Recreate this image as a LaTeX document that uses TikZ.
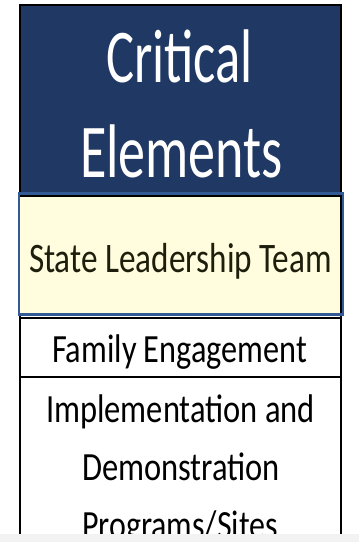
\documentclass[tikz,border=0pt]{standalone}
\usepackage{fontspec}
\setmainfont{Carlito}
\usepackage{graphicx}
\definecolor{navy}{RGB}{32,56,100}
\definecolor{paleyellow}{RGB}{255,253,222}
\definecolor{boxblue}{RGB}{52,90,150}
\definecolor{darktext}{RGB}{30,30,12}
\definecolor{bandgrey}{RGB}{242,242,242}
\newsavebox\fitbox
\newcommand\fitw[2]{\sbox\fitbox{#2}\pgfmathsetmacro\fitsx{#1/\the\wd\fitbox}\scalebox{\fitsx}[1]{\usebox\fitbox}}
\begin{document}
\begin{tikzpicture}[x=1pt,y=-1pt,
  cellline/.style={draw=black,line width=2pt},
  label/.style={inner sep=0pt,anchor=base}]
\useasboundingbox (0,0) rectangle (359,542);
\fill[white] (0,0) rectangle (359,542);
% navy header
\fill[navy] (20,5) rectangle (341,193);
\draw[cellline] (20,193) |- (341,5) -- (341,193);
% header text
\node[label,text=white,font=\fontsize{76}{76}\selectfont] (critical) at (179.5,82) {\fitw{147}{Critical}};
\node[label,text=white,font=\fontsize{76}{76}\selectfont] (elements) at (181.5,177) {\fitw{203}{Elements}};
% yellow cell
\fill[paleyellow] (20,194) rectangle (342,314);
\draw[cellline] (20,196) -- (341,196) -- (341,314);
\draw[draw=boxblue,line width=2.2pt] (19,193.5) rectangle (343,314.5);
\node[label,text=darktext,font=\fontsize{42}{42}\selectfont] (slt) at (180.5,272) {\fitw{303}{State Leadership Team}};
% family cell
\draw[cellline] (20,318) -- (341,318);
\draw[cellline] (20,377) -- (341,377);
\draw[cellline] (20,316) -- (20,536);
\draw[cellline] (341,316) -- (341,536);
\node[label,font=\fontsize{40}{40}\selectfont] (family) at (179.5,362) {\fitw{255}{Family Engagement}};
% implementation cell
\node[label,font=\fontsize{40}{40}\selectfont] (impl1) at (180.5,422) {\fitw{269}{Implementation and}};
\node[label,font=\fontsize{40}{40}\selectfont] (impl2) at (181,480) {\fitw{198}{Demonstration}};
\node[label,font=\fontsize{40}{40}\selectfont] (impl3) at (180,538) {\fitw{196}{Programs/Sites}};
% bottom band
\fill[bandgrey] (0,534) rectangle (359,542);
\end{tikzpicture}
\end{document}
